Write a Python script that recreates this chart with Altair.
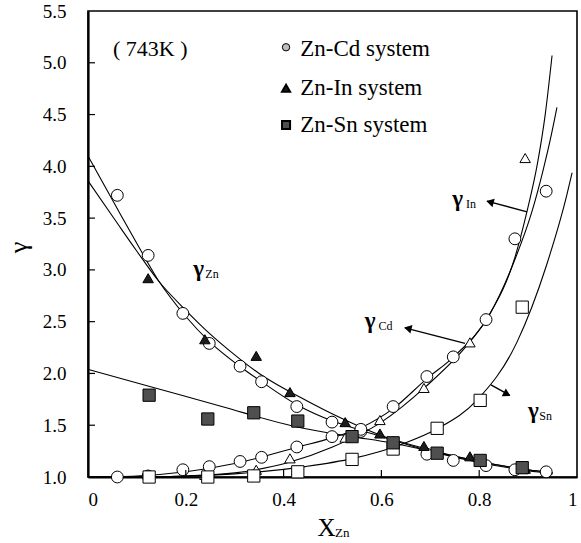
import altair as alt
import pandas as pd

FONT = "Liberation Serif, Times New Roman, Times, serif"

# ---------------- data ----------------
# Zn-Cd system (open circles)
cd_x = [0.06, 0.123, 0.194, 0.248, 0.311, 0.355, 0.427, 0.499, 0.558, 0.624, 0.693, 0.747, 0.814, 0.873, 0.937]
cd_gzn = [3.72, 3.14, 2.58, 2.29, 2.07, 1.92, 1.68, 1.53, 1.44, 1.33, 1.22, 1.16, 1.11, 1.07, 1.05]
cd_gcd = [1.00, 1.01, 1.07, 1.10, 1.15, 1.19, 1.29, 1.39, 1.46, 1.68, 1.97, 2.16, 2.52, 3.30, 3.76]

# Zn-In system (triangles: filled = gamma Zn, open = gamma In)
in_x = [0.123, 0.239, 0.344, 0.413, 0.526, 0.597, 0.687, 0.781, 0.894]
in_gzn = [2.92, 2.33, 2.17, 1.82, 1.53, 1.42, 1.30, 1.20, 1.08]
in_gin = [1.02, 1.02, 1.07, 1.18, 1.38, 1.55, 1.86, 2.30, 4.08]

# Zn-Sn system (squares: filled = gamma Zn, open = gamma Sn)
sn_x = [0.125, 0.245, 0.339, 0.429, 0.540, 0.624, 0.714, 0.802, 0.888]
sn_gzn = [1.79, 1.56, 1.62, 1.54, 1.39, 1.33, 1.23, 1.16, 1.09]
sn_gsn = [1.00, 1.00, 1.01, 1.05, 1.17, 1.27, 1.47, 1.74, 2.64]

# fitted curves
c_cdzn_x = [0, 0.06, 0.1, 0.143, 0.2, 0.25, 0.31, 0.355, 0.43, 0.5, 0.56, 0.62, 0.7, 0.8, 0.9, 0.95]
c_cdzn_y = [4.10, 3.59, 3.255, 2.905, 2.55, 2.30, 2.07, 1.92, 1.69, 1.54, 1.45, 1.36, 1.25, 1.14, 1.06, 1.03]
c_inzn_x = [0, 0.06, 0.1, 0.143, 0.2, 0.25, 0.3, 0.35, 0.434, 0.526, 0.6, 0.7, 0.8, 0.9, 0.95]
c_inzn_y = [3.86, 3.45, 3.18, 2.90, 2.61, 2.38, 2.18, 2.00, 1.77, 1.55, 1.40, 1.26, 1.15, 1.07, 1.04]
c_snzn_x = [0, 0.13, 0.27, 0.43, 0.54, 0.62, 0.7, 0.8, 0.9, 0.95]
c_snzn_y = [2.04, 1.87, 1.685, 1.48, 1.39, 1.33, 1.25, 1.15, 1.07, 1.04]
c_cd_x = [0, 0.1, 0.2, 0.3, 0.43, 0.5, 0.56, 0.624, 0.693, 0.75, 0.82, 0.873, 0.907, 0.93, 0.945, 0.959]
c_cd_y = [1.0, 1.01, 1.05, 1.13, 1.29, 1.38, 1.48, 1.66, 1.95, 2.17, 2.56, 3.10, 3.55, 3.95, 4.25, 4.57]
c_in_x = [0, 0.1, 0.2, 0.3, 0.41, 0.5, 0.6, 0.69, 0.78, 0.82, 0.873, 0.897, 0.92, 0.935, 0.949]
c_in_y = [1.0, 1.0, 1.01, 1.04, 1.14, 1.29, 1.53, 1.87, 2.30, 2.56, 3.12, 3.55, 4.05, 4.50, 5.07]
c_sn_x = [0, 0.1, 0.2, 0.3, 0.444, 0.542, 0.638, 0.716, 0.795, 0.877, 0.938, 0.979, 0.99]
c_sn_y = [1.0, 1.0, 1.01, 1.03, 1.10, 1.18, 1.31, 1.47, 1.74, 2.30, 3.05, 3.72, 3.94]

x_ticks = [0, 0.2, 0.4, 0.6, 0.8, 1.0]
y_ticks = [1.0, 1.5, 2.0, 2.5, 3.0, 3.5, 4.0, 4.5, 5.0, 5.5]

legend_labels = ["Zn-Cd system", "Zn-In system", "Zn-Sn system"]
temp_label = "( 743K )"

# annotation anchors (data coordinates)
gam_text = ["γ", "γ", "γ", "γ"]
gam_x = [0.215, 0.745, 0.566, 0.900]
gam_y = [2.94, 3.62, 2.44, 1.57]
sub_text = ["Zn", "In", "Cd", "Sn"]
sub_x = [0.240, 0.773, 0.594, 0.923]
sub_y = [2.92, 3.60, 2.42, 1.55]
arr_x = [0.898, 0.771, 0.824]
arr_y = [3.56, 2.29, 1.89]
arr_x2 = [0.816, 0.648, 0.862]
arr_y2 = [3.665, 2.44, 1.79]
head_x = [0.822, 0.654, 0.857]
head_y = [3.655, 2.435, 1.80]
head_angle = [285, 284, 118]

# ---------------- tables ----------------
pts = []
for x, y in zip(cd_x, cd_gzn):
    pts.append(dict(x=x, y=y, m="circle"))
for x, y in zip(cd_x, cd_gcd):
    pts.append(dict(x=x, y=y, m="circle"))
for x, y in zip(in_x, in_gzn):
    pts.append(dict(x=x, y=y, m="tri_f"))
for x, y in zip(in_x, in_gin):
    pts.append(dict(x=x, y=y, m="tri_o"))
for x, y in zip(sn_x, sn_gzn):
    pts.append(dict(x=x, y=y, m="sq_f"))
for x, y in zip(sn_x, sn_gsn):
    pts.append(dict(x=x, y=y, m="sq_o"))
pts = pd.DataFrame(pts)

curves = []
for name, xs_, ys_ in [("cdzn", c_cdzn_x, c_cdzn_y), ("inzn", c_inzn_x, c_inzn_y),
                       ("snzn", c_snzn_x, c_snzn_y), ("cd", c_cd_x, c_cd_y),
                       ("in", c_in_x, c_in_y), ("sn", c_sn_x, c_sn_y)]:
    for x, y in zip(xs_, ys_):
        curves.append(dict(x=x, y=y, c=name))
curves = pd.DataFrame(curves)

xs = alt.Scale(domain=[0, 1], nice=False, zero=False)
ys = alt.Scale(domain=[1, 5.5], nice=False, zero=False)

X = alt.X("x:Q", scale=xs, axis=alt.Axis(
    values=x_ticks, title="X", titleFont=FONT, titleFontSize=25, titleFontWeight="normal",
    titleX=238, titleY=58, titleAlign="center", titleBaseline="alphabetic",
    labelExpr="datum.value == 0 ? '0' : datum.value == 1 ? '1' : format(datum.value, '.1f')",
    labelPadding=13, labelFont=FONT, labelFontSize=19))
Y = alt.Y("y:Q", scale=ys, axis=alt.Axis(
    values=y_ticks, format=".1f", title="γ", titleFont=FONT, titleFontSize=26,
    titleFontWeight="normal", titleX=-70, titleY=236, titleAlign="center",
    titleBaseline="middle", labelPadding=22, labelFont=FONT, labelFontSize=19))

lines = alt.Chart(curves).mark_line(color="black", strokeWidth=1.1, interpolate="monotone").encode(
    x=X, y=Y, detail="c:N")

def pmark(kind, shape, fill, size):
    return alt.Chart(pts[pts.m == kind]).mark_point(
        shape=shape, filled=True, fill=fill, stroke="black", strokeWidth=1,
        size=size, opacity=1).encode(x=X, y=Y)

circ = pmark("circle", "circle", "white", 140)
tri_o = pmark("tri_o", "triangle-up", "white", 110)
sq_o = pmark("sq_o", "square", "white", 150)
tri_f = pmark("tri_f", "triangle-up", "#1c1c1c", 110)
sq_f = pmark("sq_f", "square", "#4f4f4f", 150)

# inward ticks
ytk = alt.Chart(pd.DataFrame({"y": y_ticks[1:-1]})).mark_rule(color="black", strokeWidth=1.2).encode(
    y=Y, x=alt.value(0), x2=alt.value(7))
xtk = alt.Chart(pd.DataFrame({"x": x_ticks[1:-1]})).mark_rule(color="black", strokeWidth=1.2).encode(
    x=X, y=alt.value(466), y2=alt.value(459))

# legend
leg_df = pd.DataFrame({"x": [0.405, 0.405, 0.405], "y": [5.15, 4.755, 4.40],
                       "tx": [0.434] * 3, "ty": [5.07, 4.69, 4.33], "t": legend_labels,
                       "m": ["circle", "tri", "sq"]})
leg_c = alt.Chart(leg_df[leg_df.m == "circle"]).mark_point(
    shape="circle", filled=True, fill="#bdbdbd", stroke="black", strokeWidth=1, size=55, opacity=1
).encode(x=X, y=Y)
leg_t = alt.Chart(leg_df[leg_df.m == "tri"]).mark_point(
    shape="triangle-up", filled=True, fill="#1c1c1c", stroke="black", size=65, opacity=1
).encode(x=X, y=Y)
leg_s = alt.Chart(leg_df[leg_df.m == "sq"]).mark_point(
    shape="square", filled=True, fill="#4f4f4f", stroke="black", size=65, opacity=1
).encode(x=X, y=Y)
leg_txt = alt.Chart(leg_df).mark_text(
    font=FONT, fontSize=23, align="left", baseline="alphabetic", color="black"
).encode(x=alt.X("tx:Q", scale=xs), y=alt.Y("ty:Q", scale=ys), text="t:N")

temp = alt.Chart(pd.DataFrame({"x": [0.051], "y": [5.07], "t": [temp_label]})).mark_text(
    font=FONT, fontSize=22, align="left", baseline="alphabetic", color="black"
).encode(x=X, y=Y, text="t:N")

gam = alt.Chart(pd.DataFrame({"x": gam_x, "y": gam_y, "t": gam_text})).mark_text(
    font=FONT, fontSize=23, fontWeight="bold", align="left", baseline="alphabetic", color="black"
).encode(x=X, y=Y, text="t:N")
sub = alt.Chart(pd.DataFrame({"x": sub_x, "y": sub_y, "t": sub_text})).mark_text(
    font=FONT, fontSize=12, align="left", baseline="alphabetic", color="black"
).encode(x=X, y=Y, text="t:N")

arr = alt.Chart(pd.DataFrame({"x": arr_x, "y": arr_y, "x2": arr_x2, "y2": arr_y2})).mark_rule(
    color="black", strokeWidth=1.3).encode(x=X, y=Y, x2="x2:Q", y2="y2:Q")
heads = alt.Chart(pd.DataFrame({"x": head_x, "y": head_y, "a": head_angle})).mark_point(
    shape="triangle-up", filled=True, color="black", size=75, opacity=1
).encode(x=X, y=Y, angle=alt.Angle("a:Q", scale=None))

# X subscript
xsub = alt.Chart(pd.DataFrame({"x": [0.505], "y": [0.42], "t": ["Zn"]})).mark_text(
    font=FONT, fontSize=13, align="left", baseline="alphabetic", color="black"
).encode(x=X, y=Y, text="t:N")

chart = alt.layer(
    lines, circ, tri_o, sq_o, tri_f, sq_f, ytk, xtk,
    leg_c, leg_t, leg_s, leg_txt, temp, gam, sub, arr, heads, xsub
).properties(
    width=489, height=466,
    autosize=alt.AutoSizeParams(type="none"),
    padding={"left": 88, "top": 11, "right": 4, "bottom": 66},
    background="white",
).configure_view(
    stroke="black", strokeWidth=1.6
).configure_axis(
    grid=False, tickSize=0, domainColor="black", domainWidth=2.2,
    labelColor="black", titleColor="black",
).configure_text(font=FONT)

chart.save("out.html", embed_options={"renderer": "svg", "actions": False})
